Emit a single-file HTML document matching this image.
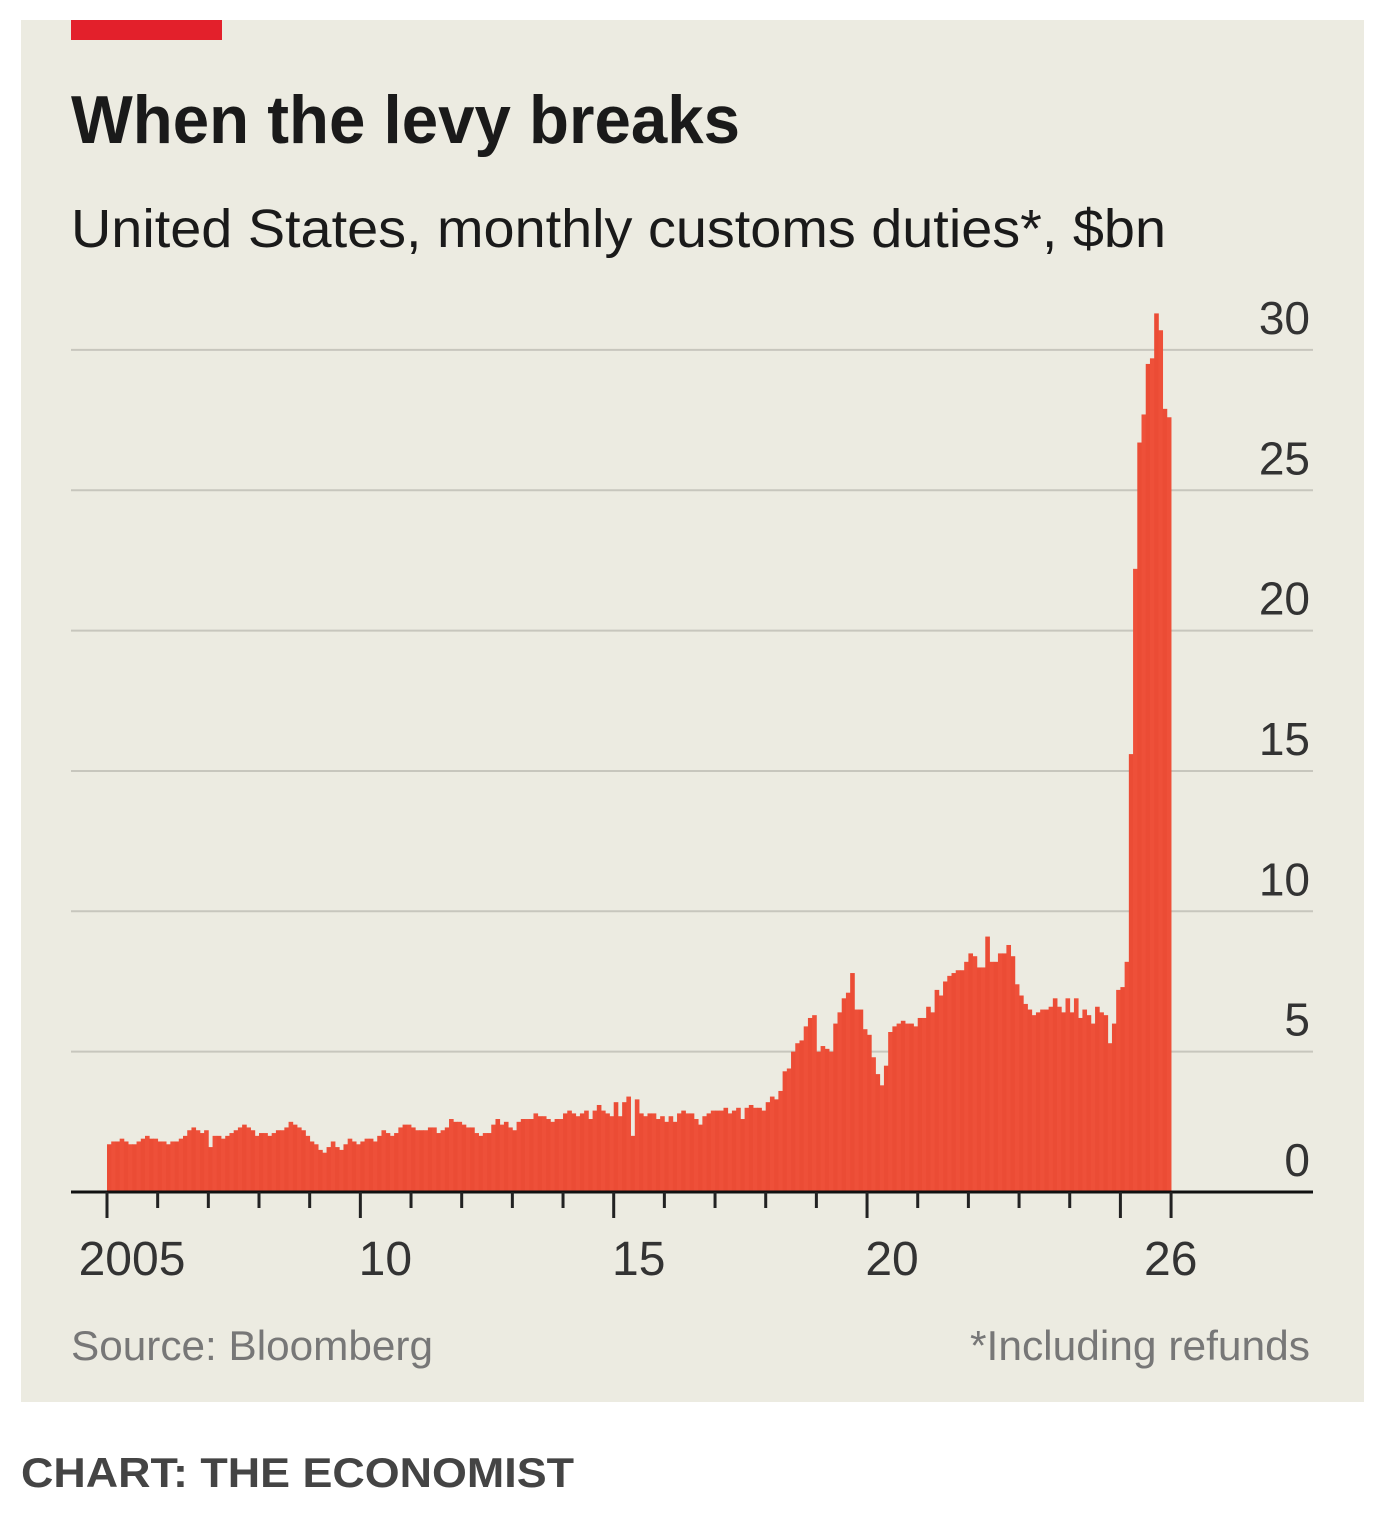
<!DOCTYPE html>
<html><head><meta charset="utf-8"><style>
html,body{margin:0;padding:0;background:#fff;}
svg{display:block;}
text{font-family:"Liberation Sans",sans-serif;}
</style></head><body>
<svg id="chart" width="1384" height="1522" viewBox="0 0 1384 1522">
<rect x="21" y="20" width="1343" height="1382" fill="#ecebe1"/>
<rect x="71" y="20" width="151" height="20" fill="#e3202b"/>
<text x="71" y="143" font-size="68" font-weight="bold" fill="#1a1a1a" textLength="669" lengthAdjust="spacingAndGlyphs">When the levy breaks</text>
<text x="71" y="247" font-size="54" fill="#1a1a1a" textLength="1095" lengthAdjust="spacingAndGlyphs">United States, monthly customs duties*, $bn</text>
<g id="grid"></g>
<g id="bars"></g>
<g id="axis"></g>
<g id="ylabels"></g>
<text x="71" y="1360" font-size="42" fill="#777" textLength="362" lengthAdjust="spacingAndGlyphs">Source: Bloomberg</text>
<text x="1310" y="1360" font-size="42" fill="#777" text-anchor="end" textLength="340" lengthAdjust="spacingAndGlyphs">*Including refunds</text>
<text x="21" y="1487" font-size="42" font-weight="bold" fill="#444" textLength="553" lengthAdjust="spacingAndGlyphs">CHART: THE ECONOMIST</text>
</svg>
<script>
const yTicks = [0,5,10,15,20,25,30];
const xLabels = ["2005","10","15","20","26"];
const xLabelYears = [2005,2010,2015,2020,2025.5];
const startYear = 2005;
const values2005_2009 = [
1.7,1.8,1.8,1.9,1.8,1.7,1.7,1.8,1.9,2.0,1.9,1.9,
1.8,1.8,1.7,1.8,1.8,1.9,2.0,2.2,2.3,2.2,2.1,2.2,
1.6,2.0,2.0,1.9,2.0,2.1,2.2,2.3,2.4,2.3,2.2,2.0,
2.1,2.1,2.0,2.1,2.2,2.2,2.3,2.5,2.4,2.3,2.2,2.0,
1.8,1.7,1.5,1.4,1.6,1.8,1.6,1.5,1.7,1.9,1.8,1.7
];
const values2010_2014 = [
1.8,1.9,1.9,1.8,2.0,2.2,2.1,2.0,2.1,2.3,2.4,2.4,
2.3,2.2,2.2,2.2,2.3,2.3,2.1,2.2,2.3,2.6,2.5,2.5,
2.4,2.3,2.3,2.1,2.0,2.1,2.1,2.4,2.6,2.4,2.5,2.3,
2.2,2.5,2.6,2.6,2.6,2.8,2.7,2.7,2.6,2.5,2.6,2.6,
2.8,2.9,2.8,2.7,2.8,2.9,2.6,2.9,3.1,2.9,2.8,2.7
];
const values2015_2019 = [
3.2,2.7,3.2,3.4,2.0,3.3,2.8,2.7,2.8,2.8,2.6,2.7,
2.5,2.7,2.5,2.8,2.9,2.8,2.8,2.6,2.4,2.7,2.8,2.9,
2.9,2.9,3.0,2.8,2.9,3.0,2.6,3.0,3.1,3.0,3.0,2.9,
3.2,3.4,3.3,3.6,4.3,4.4,5.0,5.3,5.4,5.9,6.2,6.3,
5.0,5.2,5.1,5.0,6.0,6.4,6.9,7.1,7.8,6.5,6.5,5.8
];
const values2020_2024 = [
5.6,4.8,4.2,3.8,4.5,5.7,5.9,6.0,6.1,6.0,6.0,5.9,
6.2,6.2,6.6,6.4,7.2,7.0,7.5,7.7,7.8,7.9,7.9,8.2,
8.5,8.4,8.0,8.0,9.1,8.2,8.2,8.5,8.5,8.8,8.4,7.4,
7.0,6.7,6.5,6.3,6.4,6.5,6.5,6.6,6.9,6.6,6.4,6.9,
6.4,6.9,6.2,6.5,6.3,6.0,6.6,6.4,6.3,5.3,6.0,7.2
];
const values2025 = [7.3,8.2,15.6,22.2,26.7,27.7,29.5,29.7,31.3,30.7,27.9,27.6];
const values = [].concat(values2005_2009, values2010_2014, values2015_2019, values2020_2024, values2025);

const NS = "http://www.w3.org/2000/svg";
const plotLeft = 71, plotRight = 1313;
const x0 = 107, pxPerYear = 50.67;
const yZero = 1192, pxPerUnit = 28.07;
function xScale(yr){ return x0 + (yr - startYear) * pxPerYear; }
function yScale(v){ return yZero - v * pxPerUnit; }
function mk(tag, attrs, parent){
  const e = document.createElementNS(NS, tag);
  for (const k in attrs) e.setAttribute(k, attrs[k]);
  parent.appendChild(e); return e;
}
const grid = document.getElementById('grid');
const yl = document.getElementById('ylabels');
yTicks.forEach(t => {
  if (t > 0) {
    const l = mk('line', {x1:plotLeft, x2:plotRight, y1:yScale(t), y2:yScale(t), stroke:'#c7c6bd', 'stroke-width':2}, grid);
    
    
  }
  const tx = mk('text', {x:1310, y:yScale(t) - 16, 'font-size':46, fill:'#333', 'text-anchor':'end'}, yl);
  tx.textContent = String(t);
  
  
});
const bars = document.getElementById('bars');
const bw = pxPerYear / 12;
values.forEach((v, i) => {
  const yr = startYear + i / 12;
  const r = mk('rect', {x:xScale(yr), y:yScale(v), width:bw + 0.4, height:v * pxPerUnit, fill:(i % 2 ? '#ee5039' : '#eb4c35')}, bars);
  
  
});
const axis = document.getElementById('axis');
const al = mk('line', {x1:plotLeft, x2:plotRight, y1:yZero, y2:yZero, stroke:'#111', 'stroke-width':3}, axis);


for (let k = 0; k <= 21; k++) {
  const yr = startYear + k;
  const major = (yr % 5 === 0) || yr === 2026;
  const x = xScale(yr);
  const tk = mk('line', {x1:x, x2:x, y1:yZero, y2:yZero + (major ? 26 : 16), stroke:'#222', 'stroke-width':3}, axis);
  
  
}
xLabels.forEach((lab, i) => {
  const t = mk('text', {x:xScale(xLabelYears[i]) + 25, y:1275, 'font-size':48, fill:'#333', 'text-anchor':'middle'}, axis);
  t.textContent = lab;
  
  
});
</script>
</body></html>
